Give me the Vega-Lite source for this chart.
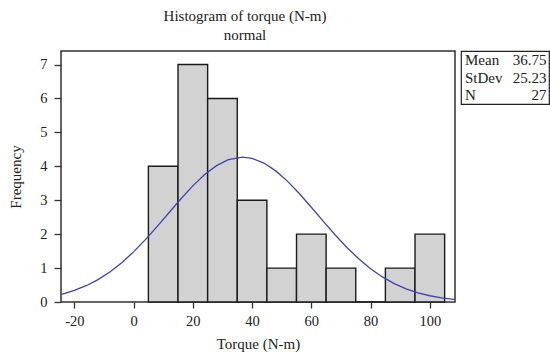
{
  "$schema": "https://vega.github.io/schema/vega-lite/v6.json",
  "padding": {"left": 8, "top": 8, "right": 1, "bottom": 2},
  "background": "white",
  "config": {
    "font": "Liberation Serif",
    "text": {"font": "Liberation Serif"},
    "axis": {"labelFont": "Liberation Serif", "titleFont": "Liberation Serif", "labelColor": "#222", "titleColor": "#222", "titleFontWeight": "normal"},
    "title": {"font": "Liberation Serif", "fontWeight": "normal", "color": "#222"}
  },
  "datasets": {
    "bins": [
      {"bin_start": 5, "bin_end": 15, "count": 4},
      {"bin_start": 15, "bin_end": 25, "count": 7},
      {"bin_start": 25, "bin_end": 35, "count": 6},
      {"bin_start": 35, "bin_end": 45, "count": 3},
      {"bin_start": 45, "bin_end": 55, "count": 1},
      {"bin_start": 55, "bin_end": 65, "count": 2},
      {"bin_start": 65, "bin_end": 75, "count": 1},
      {"bin_start": 75, "bin_end": 85, "count": 0},
      {"bin_start": 85, "bin_end": 95, "count": 1},
      {"bin_start": 95, "bin_end": 105, "count": 2}
    ],
    "curve": [
      {"x": -24.5, "y": 0.225},
      {"x": -24, "y": 0.2353},
      {"x": -20, "y": 0.3401},
      {"x": -16, "y": 0.4798},
      {"x": -12, "y": 0.6601},
      {"x": -8, "y": 0.8857},
      {"x": -4, "y": 1.1585},
      {"x": 0, "y": 1.4779},
      {"x": 4, "y": 1.8386},
      {"x": 8, "y": 2.2306},
      {"x": 12, "y": 2.6387},
      {"x": 16, "y": 3.0442},
      {"x": 20, "y": 3.4249},
      {"x": 24, "y": 3.7576},
      {"x": 28, "y": 4.0202},
      {"x": 32, "y": 4.1944},
      {"x": 36.75, "y": 4.2694},
      {"x": 40, "y": 4.2341},
      {"x": 44, "y": 4.0967},
      {"x": 48, "y": 3.8654},
      {"x": 52, "y": 3.5565},
      {"x": 56, "y": 3.1912},
      {"x": 60, "y": 2.7924},
      {"x": 64, "y": 2.3826},
      {"x": 68, "y": 1.9826},
      {"x": 72, "y": 1.6088},
      {"x": 76, "y": 1.2731},
      {"x": 80, "y": 0.9824},
      {"x": 84, "y": 0.7392},
      {"x": 88, "y": 0.5425},
      {"x": 92, "y": 0.3882},
      {"x": 96, "y": 0.2709},
      {"x": 100, "y": 0.1844},
      {"x": 104, "y": 0.1223},
      {"x": 108, "y": 0.0792},
      {"x": 108.5, "y": 0.0755}
    ],
    "stats": [
      {"stat": "Mean", "value": "36.75"},
      {"stat": "StDev", "value": "25.23"},
      {"stat": "N", "value": "27"}
    ]
  },
  "spacing": 4,
  "hconcat": [
    {
      "width": 394,
      "height": 251,
      "title": {"text": ["Histogram of torque (N-m)", "normal"], "font": "Liberation Serif", "fontSize": 15, "lineHeight": 19, "offset": 8, "dx": -13, "anchor": "middle"},
      "view": {"stroke": "#333", "strokeWidth": 1.5},
      "layer": [
        {
          "data": {"name": "bins"},
          "mark": {"type": "rect", "fill": "#d2d2d2", "stroke": "#1a1a1a", "strokeWidth": 1.4},
          "encoding": {
            "x": {"field": "bin_start", "type": "quantitative",
              "scale": {"domain": [-24.5, 108.5], "nice": false, "zero": false},
              "axis": {"title": "Torque (N-m)", "values": [-20, 0, 20, 40, 60, 80, 100], "labelExpr": "'' + datum.value", "grid": false, "domain": false, "tickSize": 6, "tickColor": "#333", "tickWidth": 1.3, "labelFont": "Liberation Serif", "titleFont": "Liberation Serif", "labelFontSize": 14.5, "labelPadding": 6, "titleFontSize": 15, "titlePadding": 9}},
            "x2": {"field": "bin_end"},
            "y": {"field": "count", "type": "quantitative",
              "scale": {"domain": [0, 7.4], "nice": false},
              "axis": {"title": "Frequency", "values": [0, 1, 2, 3, 4, 5, 6, 7], "grid": false, "domain": false, "tickSize": 7, "tickColor": "#333", "tickWidth": 1.3, "labelFont": "Liberation Serif", "titleFont": "Liberation Serif", "labelFontSize": 14.5, "labelPadding": 7, "titleFontSize": 15, "titlePadding": 16}}
          }
        },
        {
          "data": {"name": "curve"},
          "mark": {"type": "line", "color": "#4242b2", "strokeWidth": 1.3, "clip": true},
          "encoding": {
            "x": {"field": "x", "type": "quantitative",
              "axis": {"title": "Torque (N-m)", "values": [-20, 0, 20, 40, 60, 80, 100], "labelExpr": "'' + datum.value", "grid": false, "domain": false, "tickSize": 6, "tickColor": "#333", "tickWidth": 1.3, "labelFont": "Liberation Serif", "titleFont": "Liberation Serif", "labelFontSize": 14.5, "labelPadding": 6, "titleFontSize": 15, "titlePadding": 9}},
            "y": {"field": "y", "type": "quantitative",
              "axis": {"title": "Frequency", "values": [0, 1, 2, 3, 4, 5, 6, 7], "grid": false, "domain": false, "tickSize": 7, "tickColor": "#333", "tickWidth": 1.3, "labelFont": "Liberation Serif", "titleFont": "Liberation Serif", "labelFontSize": 14.5, "labelPadding": 7, "titleFontSize": 15, "titlePadding": 16}}
          }
        }
      ]
    },
    {
      "width": 88,
      "height": 53,
      "data": {"name": "stats"},
      "view": {"stroke": "#222", "strokeWidth": 1.2},
      "encoding": {
        "y": {"field": "stat", "type": "nominal", "sort": null, "axis": null}
      },
      "layer": [
        {
          "mark": {"type": "text", "align": "left", "baseline": "middle", "font": "Liberation Serif", "fontSize": 15, "dx": 4, "color": "#222"},
          "encoding": {
            "x": {"datum": 0, "type": "quantitative", "scale": {"domain": [0, 1]}, "axis": null},
            "text": {"field": "stat"}
          }
        },
        {
          "mark": {"type": "text", "align": "right", "baseline": "middle", "font": "Liberation Serif", "fontSize": 15, "dx": -2.5, "color": "#222"},
          "encoding": {
            "x": {"datum": 1, "type": "quantitative"},
            "text": {"field": "value"}
          }
        }
      ]
    }
  ]
}
